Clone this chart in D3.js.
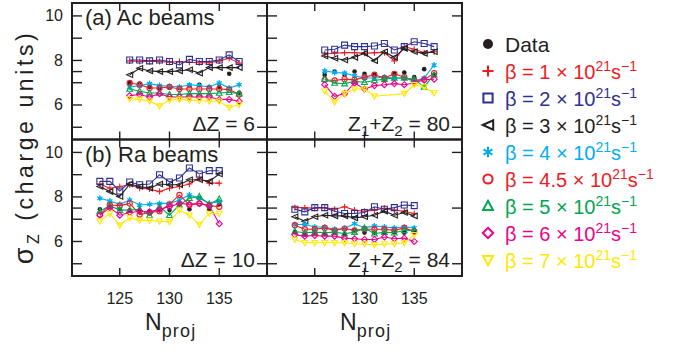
<!DOCTYPE html>
<html>
<head>
<meta charset="utf-8">
<script src="https://cdn.jsdelivr.net/npm/d3@7"></script>
<style>
  body { margin: 0; background: #fff; }
  svg { display: block; font-family: "Liberation Sans", Arial, sans-serif; }
</style>
</head>
<body>
<svg id="chart" width="691" height="357"></svg>
<script>
// Neutron numbers of the projectiles
const nAc = [126, 127, 128, 129, 130, 131, 132, 133, 134, 135, 136, 137];
const nRa = [123, 124, 125, 126, 127, 128, 129, 130, 131, 132, 133, 134, 135];

// Series order: Data, then beta = 1, 2, 3, 4, 4.5, 5, 6, 7 (x 10^21 s^-1)
const seriesKeys = ["data", "b1", "b2", "b3", "b4", "b45", "b5", "b6", "b7"];
const betaLabels = [null, "1", "2", "3", "4", "4.5", "5", "6", "7"];

// sigma_Z for Ac beams, Delta Z = 6
const acDeltaZ6 = [
  [6.99, 6.96, 6.81, 6.76, 6.81, 6.76, 6.87, 6.91, 6.81, 6.81, 7.40, 6.55],
  [7.98, 7.95, 7.95, 7.95, 7.92, 7.95, 7.92, 7.90, 7.90, 7.98, 8.10, 7.88],
  [8.02, 8.02, 7.98, 8.02, 7.95, 7.80, 8.05, 7.95, 7.95, 8.02, 8.25, 7.95],
  [7.36, 7.65, 7.53, 7.50, 7.50, 7.53, 7.58, 7.43, 7.68, 7.68, 7.68, 7.68],
  [6.81, 6.87, 6.96, 6.87, 6.84, 6.81, 6.91, 6.87, 6.81, 6.99, 6.76, 6.91],
  [6.99, 6.91, 6.76, 6.76, 6.81, 6.72, 6.72, 6.72, 6.72, 6.72, 6.69, 6.47],
  [6.72, 6.62, 6.54, 6.54, 6.47, 6.47, 6.51, 6.51, 6.51, 6.54, 6.57, 6.51],
  [6.42, 6.47, 6.36, 6.51, 6.36, 6.36, 6.36, 6.36, 6.36, 6.25, 6.25, 6.17],
  [6.28, 6.25, 6.17, 5.95, 6.22, 6.25, 6.22, 6.20, 6.17, 6.17, 5.88, 6.02]
];

// sigma_Z for Ac beams, Z1 + Z2 = 80
const acZsum80 = [
  [7.35, 7.50, 7.35, 7.50, 7.40, 7.36, 7.25, 7.40, 7.46, 7.25, 7.61, 7.35],
  [8.29, 8.32, 8.35, 8.35, 8.32, 8.35, 8.35, 7.98, 8.62, 8.50, 8.35, 8.39],
  [8.47, 8.50, 8.69, 8.62, 8.62, 8.65, 8.76, 8.47, 8.62, 8.84, 8.76, 8.62],
  [8.20, 8.10, 8.02, 8.14, 8.32, 7.99, 8.39, 8.14, 8.54, 8.39, 8.32, 8.39],
  [7.53, 7.46, 7.43, 7.31, 7.21, 7.21, 7.25, 7.21, 7.21, 7.06, 7.21, 7.80],
  [7.13, 7.10, 7.16, 7.13, 7.25, 7.36, 7.21, 7.40, 7.25, 7.10, 7.13, 7.43],
  [7.16, 6.99, 6.96, 7.06, 7.02, 7.10, 7.16, 7.21, 7.21, 7.16, 6.81, 7.36],
  [6.91, 6.39, 6.51, 6.99, 6.72, 6.87, 6.91, 6.96, 6.91, 6.99, 7.13, 7.16],
  [6.62, 6.13, 6.51, 6.72, 6.72, 6.39, null, null, 6.51, 6.91, 6.81, 6.54]
];

// sigma_Z for Ra beams, Delta Z = 10
const raDeltaZ10 = [
  [7.45, 7.55, 7.45, 7.40, 7.35, 7.35, 7.40, 7.41, 7.67, 7.45, 7.94, 7.45, 7.67],
  [8.58, 8.39, 8.47, 8.55, 8.39, 8.36, 8.24, 8.39, 8.47, 8.58, 8.85, 8.62, 8.62],
  [8.70, 8.70, 8.27, 8.67, 8.55, 8.58, 9.00, 8.67, 8.85, 9.30, 9.03, 9.18, 9.18],
  [8.47, 8.24, 8.02, 8.58, 8.47, 8.39, 8.58, 8.55, 8.55, 8.77, 8.77, 8.70, 9.03],
  [7.94, 7.82, 7.67, 7.86, 7.64, 7.67, 7.71, 7.71, 7.86, 8.09, 7.94, 7.71, 7.79],
  [7.21, 7.64, 7.61, 7.71, 7.21, 7.30, 7.36, 7.67, 8.09, 7.64, 7.71, 7.61, 7.56],
  [7.36, 7.61, 7.41, 7.41, 7.45, 7.18, 7.56, 7.18, 7.64, 7.94, 8.02, 7.67, 7.91],
  [7.18, 7.52, 7.18, 7.30, 7.36, 7.33, 7.45, 7.56, 7.71, 7.67, 7.71, 7.61, 6.80],
  [6.91, 7.26, 6.73, 7.06, 6.95, 6.95, 6.91, 6.88, 7.41, 7.18, 6.76, 7.26, 7.26]
];

// sigma_Z for Ra beams, Z1 + Z2 = 84
const raZsum84 = [
  [6.42, 6.30, 6.42, 6.35, 6.42, 6.33, 6.50, 6.40, 6.40, 6.39, 6.42, 6.39, 6.42],
  [7.52, 7.52, 7.49, 7.52, 7.45, 7.56, 7.41, 7.36, 7.41, 7.49, 7.41, 7.36, 7.26],
  [7.45, 7.33, 7.52, 7.52, 7.36, 7.26, 7.26, 7.30, 7.56, 7.45, 7.52, 7.64, 7.61],
  [7.11, 6.91, 7.11, 7.18, 7.15, 7.15, 7.06, 7.11, 7.18, 7.36, 7.18, 7.30, 7.15],
  [6.76, 6.76, 6.65, 6.65, 6.55, 6.58, 6.80, 6.61, 6.70, 6.65, 6.61, 6.65, 6.61],
  [6.73, 6.55, 6.55, 6.61, 6.50, 6.58, 6.50, 6.55, 6.55, 6.55, 6.50, 6.61, 6.45],
  [6.45, 6.39, 6.42, 6.39, 6.42, 6.35, 6.42, 6.61, 6.35, 6.42, 6.39, 6.50, 6.50],
  [6.30, 6.24, 6.27, 6.24, 6.24, 6.15, 6.12, 6.09, 6.09, 6.20, 6.12, 6.15, 6.00],
  [6.09, 5.94, 5.94, 5.94, 5.94, 5.94, 5.89, 5.89, 5.85, 5.89, 5.89, 5.94, 6.30]
];

const xTicks = [125, 130, 135];
const yTickLabels = [6, 8, 10];
const yTicksLeft = [5, 6, 7, 7.5, 8, 9, 10];
const yTicksRight = [5, 7.5, 10];

// Styles
const seriesColors = ["#231f20", "#ed1c24", "#2e3192", "#231f20", "#00aeef", "#ed1c24", "#00a651", "#ec008c", "#ffe800"];
const seriesSymbols = ["dot", "plus", "square", "triLeft", "star", "circle", "triUp", "diamond", "triDown"];

const svg = d3.select("#chart");

const colX = [72, 267];
const rowY = [3, 139.5];
const panelW = 195, panelH = 136.5;

const x = d3.scaleLinear().domain([120.2, 139.8]).range([0, panelW]);
const y = d3.scaleLinear().domain([4.45, 10.58]).range([panelH, 0]);

function symbolPath(type, s) {
  switch (type) {
    case "plus": return `M${-s},0H${s}M0,${-s}V${s}`;
    case "square": return `M${-s},${-s}H${s}V${s}H${-s}Z`;
    case "triLeft": return `M${-s},0L${s},${-s * 0.9}L${s},${s * 0.9}Z`;
    case "triUp": return `M0,${-s}L${s * 0.95},${s * 0.75}L${-s * 0.95},${s * 0.75}Z`;
    case "triDown": return `M0,${s}L${s * 0.95},${-s * 0.75}L${-s * 0.95},${-s * 0.75}Z`;
    case "diamond": return `M0,${-s}L${s},0L0,${s}L${-s},0Z`;
    case "circle":
    case "dot": return `M${s},0A${s},${s} 0 1,1 ${-s},0A${s},${s} 0 1,1 ${s},0Z`;
    case "star": {
      const a = s * 0.866, b = s * 0.5;
      return `M0,${-s}V${s}M${-a},${-b}L${a},${b}M${-a},${b}L${a},${-b}`;
    }
  }
}

function drawSymbol(g, type, color, s, sw, withCore) {
  const filled = type === "dot";
  g.append("path")
    .attr("d", symbolPath(type, s))
    .attr("fill", filled ? color : "none")
    .attr("stroke", filled ? "none" : color)
    .attr("stroke-width", sw);
  if (type === "star" && withCore) {
    g.append("circle").attr("r", s * 0.6).attr("fill", color);
  }
}

const panels = [
  { col: 0, row: 0, n: nAc, values: acDeltaZ6, title: "(a) Ac beams", note: "dz", noteVal: "6" },
  { col: 1, row: 0, n: nAc, values: acZsum80, title: null, note: "zz", noteVal: "80" },
  { col: 0, row: 1, n: nRa, values: raDeltaZ10, title: "(b) Ra beams", note: "dz", noteVal: "10" },
  { col: 1, row: 1, n: nRa, values: raZsum84, title: null, note: "zz", noteVal: "84" }
];

// measured points first, model curves over them
const drawOrder = [0, 1, 2, 3, 4, 5, 6, 7, 8];

panels.forEach(p => {
  const g = svg.append("g").attr("transform", `translate(${colX[p.col]},${rowY[p.row]})`);

  // inward ticks
  const tk = g.append("g").attr("stroke", "#231f20").attr("stroke-width", 1.4);
  xTicks.forEach(t => {
    tk.append("line").attr("x1", x(t)).attr("x2", x(t)).attr("y1", 0).attr("y2", 8);
    tk.append("line").attr("x1", x(t)).attr("x2", x(t)).attr("y1", panelH).attr("y2", panelH - 8);
  });
  yTicksLeft.forEach(t => {
    tk.append("line").attr("x1", 0).attr("x2", 10).attr("y1", y(t)).attr("y2", y(t));
  });
  yTicksRight.forEach(t => {
    tk.append("line").attr("x1", panelW).attr("x2", panelW - 10).attr("y1", y(t)).attr("y2", y(t));
  });

  // series
  drawOrder.forEach(si => {
    const vals = p.values[si];
    const pts = p.n.map((nv, i) => ({ n: nv, v: vals[i] })).filter(d => d.v != null);
    const color = seriesColors[si];
    if (si !== 0) {
      g.append("path")
        .datum(pts)
        .attr("fill", "none")
        .attr("stroke", color)
        .attr("stroke-width", 1.1)
        .attr("d", d3.line().x(d => x(d.n)).y(d => y(d.v)));
    }
    pts.forEach(d => {
      const mg = g.append("g").attr("transform", `translate(${x(d.n)},${y(d.v)})`);
      const type = seriesSymbols[si];
      const s = type === "dot" ? 2.3 : type === "circle" ? 2.6 : 3;
      drawSymbol(mg, type, color, s, type === "star" ? 1.2 : 1.1, true);
    });
  });

  // frame
  g.append("rect").attr("width", panelW).attr("height", panelH)
    .attr("fill", "none").attr("stroke", "#231f20").attr("stroke-width", 2);

  // labels inside panel
  if (p.title) {
    g.append("text").attr("x", 13).attr("y", 22).attr("font-size", 22).attr("fill", "#231f20")
      .text(p.title);
  }
  const nt = g.append("text").attr("text-anchor", "end").attr("x", panelW - 12).attr("y", panelH - 9)
    .attr("font-size", 21).attr("fill", "#231f20");
  if (p.note === "dz") {
    nt.text(`ΔZ = ${p.noteVal}`);
  } else {
    nt.append("tspan").text("Z");
    nt.append("tspan").attr("font-size", 15).attr("dy", 5).text("1");
    nt.append("tspan").attr("dy", -5).text("+Z");
    nt.append("tspan").attr("font-size", 15).attr("dy", 5).text("2");
    nt.append("tspan").attr("dy", -5).text(` = ${p.noteVal}`);
  }

  // tick labels
  if (p.col === 0) {
    yTickLabels.forEach(t => {
      g.append("text").attr("x", -9).attr("y", y(t) + 5.5).attr("text-anchor", "end")
        .attr("font-size", 16).attr("fill", "#231f20").text(t);
    });
  }
  if (p.row === 1) {
    xTicks.forEach(t => {
      g.append("text").attr("x", x(t)).attr("y", panelH + 28).attr("text-anchor", "middle")
        .attr("font-size", 16).attr("fill", "#231f20").text(t);
    });
    const xl = g.append("text").attr("x", 73).attr("y", panelH + 54)
      .attr("font-size", 23).attr("fill", "#231f20");
    xl.append("tspan").text("N");
    xl.append("tspan").attr("font-size", 18).attr("dy", 7).attr("letter-spacing", 1.2).text("proj");
  }
});

// y-axis title
const yt = svg.append("text")
  .attr("transform", "translate(33,147) rotate(-90)")
  .attr("text-anchor", "middle")
  .attr("font-size", 23).attr("letter-spacing", 3.6).attr("fill", "#231f20");
yt.append("tspan").attr("font-size", 27).text("σ");
yt.append("tspan").attr("font-size", 16).attr("dy", 6).text("Z");
yt.append("tspan").attr("dy", -6).text(" (charge units)");

// legend
const legend = svg.append("g").attr("transform", "translate(488,0)");
const legendY = [44, 71, 98, 125, 152, 179, 206, 233, 260];
seriesKeys.forEach((k, i) => {
  const row = legend.append("g").attr("transform", `translate(0,${legendY[i]})`);
  const type = seriesSymbols[i];
  const ms = row.append("g");
  const s = type === "dot" ? 5 : type === "plus" ? 5.5 : type === "square" ? 4.6 : type === "circle" ? 4.6 : 5.2;
  drawSymbol(ms, type, seriesColors[i], s, 2, false);
  const t = row.append("text").attr("x", 17).attr("y", 7.5).attr("fill", seriesColors[i]);
  if (i === 0) {
    t.attr("font-size", 21).text("Data");
  } else {
    t.attr("font-size", 20);
    t.append("tspan").text(`β = ${betaLabels[i]} × 10`);
    t.append("tspan").attr("font-size", 14).attr("dy", -8).text("21");
    t.append("tspan").attr("dy", 8).text("s");
    t.append("tspan").attr("font-size", 14).attr("dy", -8).text("−1");
  }
});
</script>
</body>
</html>
